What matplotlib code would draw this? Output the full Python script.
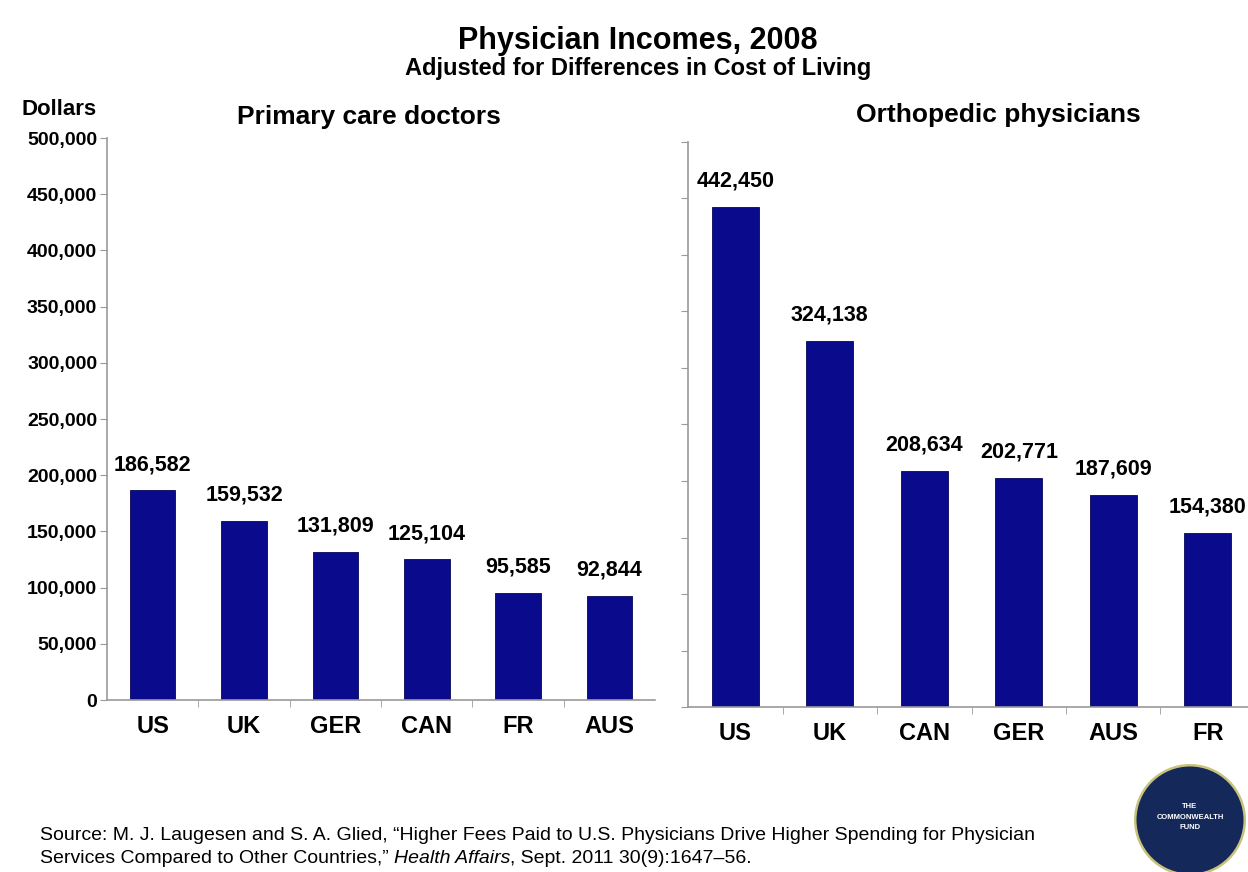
import matplotlib.pyplot as plt
from matplotlib.patches import Circle

plt.rcParams["font.family"] = ["Liberation Sans", "DejaVu Sans"]

# data
primary_countries = ["US", "UK", "GER", "CAN", "FR", "AUS"]
primary_income = [186582, 159532, 131809, 125104, 95585, 92844]

ortho_countries = ["US", "UK", "CAN", "GER", "AUS", "FR"]
ortho_income = [442450, 324138, 208634, 202771, 187609, 154380]

y_ticks = [0, 50000, 100000, 150000, 200000, 250000, 300000, 350000, 400000, 450000, 500000]

bar_color = "#0a0a8c"
axis_color = "#9a9a9a"

fig = plt.figure(figsize=(12.48, 8.72), dpi=100)
ax1 = fig.add_axes([0.0857, 0.1972, 0.4393, 0.6445])
ax2 = fig.add_axes([0.5513, 0.1892, 0.4543, 0.6480])


def style_axes(ax, countries, values, show_labels):
    x = range(len(countries))
    ax.bar(x, values, width=0.5, color=bar_color, edgecolor="#06065a", linewidth=0.6)
    ax.set_xlim(-0.5, len(countries) - 0.5)
    ax.set_ylim(0, 500000)
    ax.set_yticks(y_ticks)
    if show_labels:
        ax.set_yticklabels([f"{v:,}" for v in y_ticks], fontsize=14, fontweight="bold")
    else:
        ax.set_yticklabels([])
    ax.set_xticks(list(x))
    ax.set_xticklabels(countries, fontsize=17, fontweight="bold")
    ax.set_xticks([i + 0.5 for i in range(len(countries) - 1)], minor=True)
    ax.tick_params(axis="x", which="major", length=0, pad=11)
    ax.tick_params(axis="x", which="minor", length=5, color=axis_color, direction="out")
    ax.tick_params(axis="y", length=5, color=axis_color, pad=2)
    for s in ["top", "right"]:
        ax.spines[s].set_visible(False)
    for s in ["left", "bottom"]:
        ax.spines[s].set_color(axis_color)
        ax.spines[s].set_linewidth(1.2)
    for i, v in enumerate(values):
        ax.annotate(f"{v:,}", (i, v), xytext=(0, 11), textcoords="offset points",
                    ha="center", va="bottom", fontsize=15.5, fontweight="bold")


style_axes(ax1, primary_countries, primary_income, True)
style_axes(ax2, ortho_countries, ortho_income, False)

# titles
fig.text(0.511, 0.953, "Physician Incomes, 2008", ha="center", va="center",
         fontsize=22, fontweight="bold")
fig.text(0.511, 0.921, "Adjusted for Differences in Cost of Living", ha="center", va="center",
         fontsize=17, fontweight="bold")
fig.text(0.296, 0.866, "Primary care doctors", ha="center", va="center",
         fontsize=19, fontweight="bold")
fig.text(0.800, 0.868, "Orthopedic physicians", ha="center", va="center",
         fontsize=19, fontweight="bold")
fig.text(0.047, 0.874, "Dollars", ha="center", va="center", fontsize=16, fontweight="bold")

# source
fs = 14
fig.text(0.032, 0.042, "Source: M. J. Laugesen and S. A. Glied, \u201cHigher Fees Paid to U.S. Physicians Drive "
         "Higher Spending for Physician", fontsize=fs, va="center")
src2 = fig.text(0.032, 0.016, "Services Compared to Other Countries,\u201d ", fontsize=fs, va="center")
fig.canvas.draw()
r = fig.canvas.get_renderer()
bb = src2.get_window_extent(r)
src3 = fig.text(bb.x1 / fig.bbox.width, 0.016, "Health Affairs", fontsize=fs, style="italic", va="center")
bb = src3.get_window_extent(r)
fig.text(bb.x1 / fig.bbox.width, 0.016, ", Sept. 2011 30(9):1647\u201356.", fontsize=fs, va="center")

# logo
fig.patches.append(Circle((11.90, 0.52), 0.56, transform=fig.dpi_scale_trans,
                          facecolor="#c8c27a", edgecolor="none"))
fig.patches.append(Circle((11.90, 0.52), 0.535, transform=fig.dpi_scale_trans,
                          facecolor="#14285a", edgecolor="none"))
fig.text(11.90 / 12.48, 0.55 / 8.72, "THE\nCOMMONWEALTH\nFUND", ha="center", va="center",
         fontsize=5.5, fontweight="bold", color="white", linespacing=1.7)

fig.savefig("out.png", dpi=100)
